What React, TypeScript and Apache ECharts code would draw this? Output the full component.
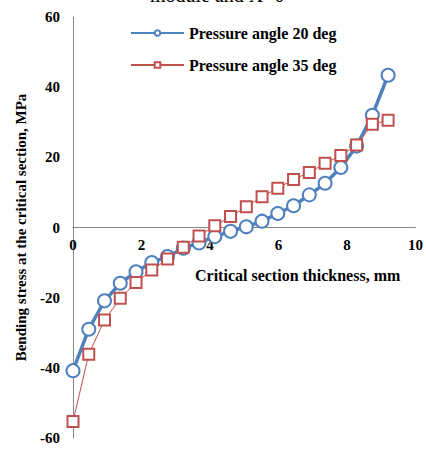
import React, { useEffect, useRef } from "react";
import * as echarts from "echarts";

const thickness = [0, 0.46, 0.92, 1.38, 1.84, 2.3, 2.76, 3.22, 3.68, 4.14, 4.6, 5.06, 5.52, 5.98, 6.44, 6.9, 7.36, 7.82, 8.28, 8.74, 9.2];
const stress20 = [-40.8, -29.0, -20.9, -15.9, -12.6, -10.0, -8.3, -5.9, -4.4, -2.6, -1.1, 0.2, 1.8, 4.0, 6.2, 9.3, 12.6, 17.1, 23.2, 32.0, 43.4];
const stress35 = [-55.3, -36.1, -26.4, -20.2, -15.7, -12.1, -9.0, -5.6, -2.4, 0.5, 3.1, 5.9, 8.8, 11.2, 13.7, 15.7, 18.3, 20.5, 23.5, 29.4, 30.6];
const seriesNames = ["Pressure angle 20 deg", "Pressure angle 35 deg"];
const xTitle = "Critical section thickness, mm";
const yTitle = "Bending stress at the critical section, MPa";
const topTitle = "module and X=0";

const FONT = "'Liberation Serif', 'Times New Roman', serif";

export default function App() {
  const ref = useRef<HTMLDivElement>(null);
  useEffect(() => {
    if (!ref.current) return;
    const chart = echarts.init(ref.current, undefined, { renderer: "svg" });
    chart.setOption({
      animation: false,
      backgroundColor: "#ffffff",
      grid: { left: 73, right: 9, top: 17, bottom: 12, containLabel: false },
      legend: {
        orient: "vertical",
        left: 125,
        top: 20,
        itemWidth: 53,
        itemHeight: 7,
        itemGap: 16,
        textStyle: { fontFamily: FONT, fontWeight: "bold", fontSize: 16, color: "#000" },
        data: seriesNames,
      },
      xAxis: {
        type: "value",
        min: 0,
        max: 10,
        interval: 2,
        offset: -210.5,
        axisLine: { onZero: false, lineStyle: { color: "#888888", width: 1 } },
        axisTick: { show: false },
        splitLine: { show: false },
        axisLabel: { fontFamily: FONT, fontWeight: "bold", fontSize: 15, color: "#000", margin: 10 },
      },
      yAxis: {
        type: "value",
        min: -60,
        max: 60,
        interval: 20,
        axisLine: { show: true, onZero: false, lineStyle: { color: "#888888", width: 1 } },
        axisTick: { show: false },
        splitLine: { show: false },
        axisLabel: { fontFamily: FONT, fontWeight: "bold", fontSize: 15, color: "#000", margin: 13 },
        name: yTitle,
        nameLocation: "middle",
        nameGap: 45,
        nameRotate: 90,
        nameTextStyle: { fontFamily: FONT, fontWeight: "bold", fontSize: 15, color: "#000" },
      },
      graphic: [
        {
          type: "text",
          left: 150,
          top: -15,
          style: { text: topTitle, fontFamily: FONT, fontSize: 20, fill: "#000" },
        },
        {
          type: "text",
          left: 195,
          top: 267,
          style: { text: xTitle, fontFamily: FONT, fontWeight: "bold", fontSize: 16, fill: "#000" },
        },
      ],
      series: [
        {
          name: seriesNames[0],
          type: "line",
          data: thickness.map((x, i) => [x, stress20[i]]),
          symbol: "emptyCircle",
          symbolSize: 13,
          z: 3,
          lineStyle: { color: "#4F81BD", width: 3.5 },
          itemStyle: { color: "#4F81BD", borderColor: "#4F81BD", borderWidth: 2.8 },
        },
        {
          name: seriesNames[1],
          type: "line",
          data: thickness.map((x, i) => [x, stress35[i]]),
          symbol: "emptyRect",
          symbolSize: 11,
          z: 4,
          lineStyle: { color: "#C0504D", width: 1 },
          itemStyle: { color: "#C0504D", borderColor: "#C0504D", borderWidth: 1.3 },
        },
      ],
    });
    return () => chart.dispose();
  }, []);
  return <div ref={ref} style={{ width: 426, height: 450, position: "absolute", left: 0, top: 0 }} />;
}
